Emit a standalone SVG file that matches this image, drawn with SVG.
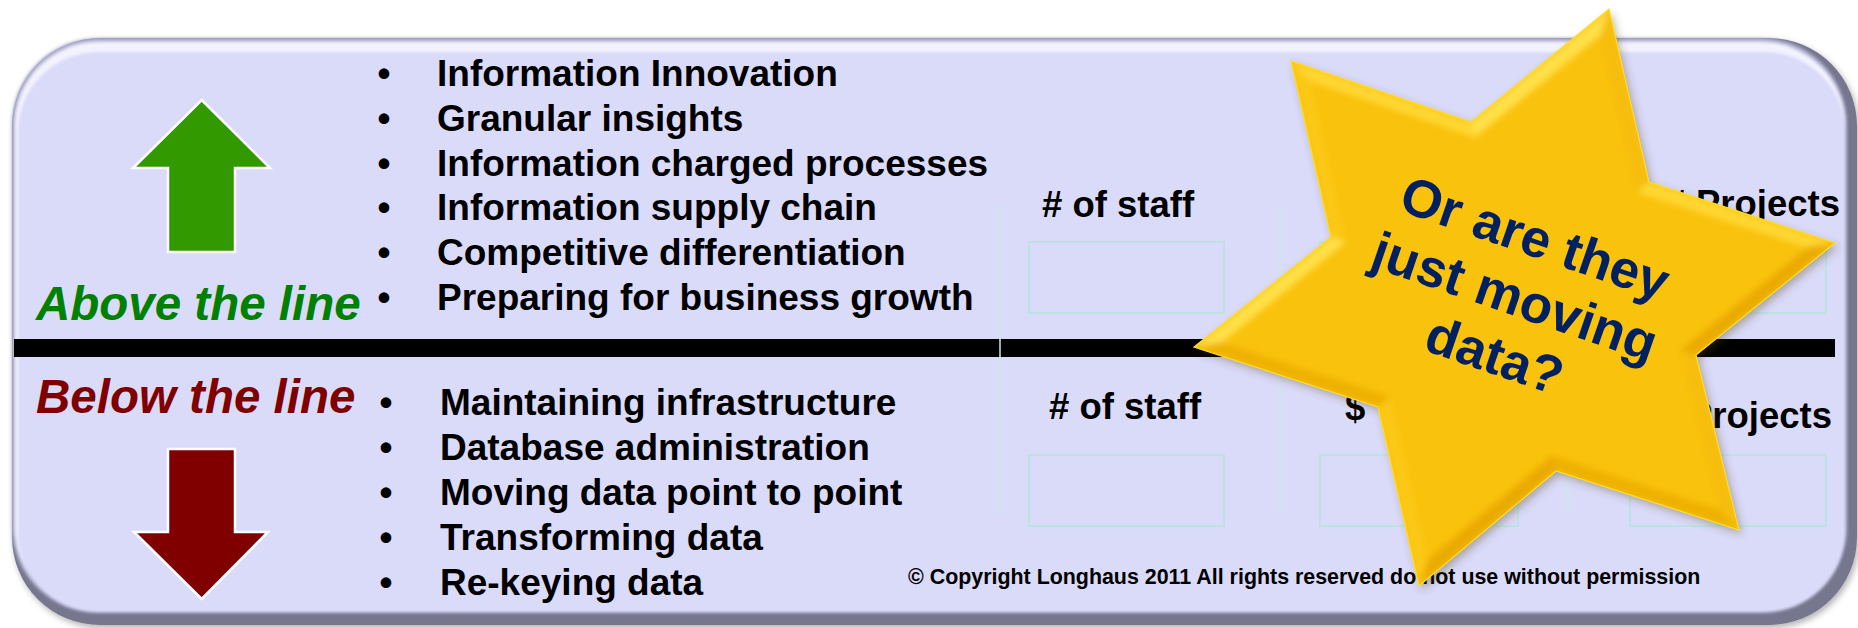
<svg xmlns="http://www.w3.org/2000/svg" width="1858" height="628" viewBox="0 0 1858 628">
<defs>
<style>
.t{font-family:"Liberation Sans",Arial,Helvetica,sans-serif;font-weight:bold}
.item{font-size:37px;fill:#000}
.bul{font-size:37px;fill:#000;text-anchor:middle}
.hdr{font-size:36.5px;fill:#000}
.big{font-size:47.5px;font-style:italic}
.cell{fill:none;stroke:#BCE3E1;stroke-width:2}
.vline{stroke:#C8E9E8;stroke-width:1.5}
.st{font-size:53px;fill:#002060;text-anchor:middle}
.arrow{stroke:#FFFFFF;stroke-width:2.5;stroke-linejoin:miter}
</style>
<filter id="soft" x="-2%" y="-5%" width="104%" height="110%"><feGaussianBlur stdDeviation="1.6"/></filter>
<filter id="pshadow" x="-2%" y="-5%" width="104%" height="112%"><feDropShadow dx="2" dy="3" stdDeviation="3" flood-color="#000" flood-opacity="0.3"/></filter>
<filter id="sshadow" x="-10%" y="-10%" width="125%" height="125%"><feDropShadow dx="3" dy="4" stdDeviation="4" flood-color="#4a3c00" flood-opacity="0.35"/></filter>
<filter id="fblur" x="-5%" y="-5%" width="110%" height="110%"><feGaussianBlur stdDeviation="3"/></filter>
<clipPath id="starclip"><polygon points="1609,9 1649,182 1835,243 1696,355 1739,530 1556,471 1419,586 1378,407 1194,347 1331,237 1291,61 1471,122"/></clipPath>
</defs>

<g id="panel">
<rect x="12" y="38" width="1845" height="587" rx="88" fill="#76768E" filter="url(#pshadow)"/>
<g filter="url(#soft)">
<rect x="12" y="38" width="1835" height="575" rx="86" fill="#B6B6D6"/>
<rect x="15" y="42" width="1830" height="569" rx="84" fill="#F3F3FE"/>
<rect x="18" y="52" width="1827" height="560" rx="80" fill="#DADAF9"/>
</g>
</g>

<g id="divider">
<rect x="14" y="339" width="1821" height="18" fill="#000"/>
</g>

<g id="connectors"></g>

<g id="up-arrow">
<polygon class="arrow" fill="#339900" points="201.7,100 270,168 235,168 235,252 168,252 168,168 133,168"/>
</g>
<g id="down-arrow">
<polygon class="arrow" fill="#800000" points="168,449 235,449 235,532 268,532 201.7,599 134,532 168,532"/>
</g>

<g id="above-label">
<text class="t big" x="36" y="320" fill="#008000">Above the line</text>
</g>
<g id="below-label">
<text class="t big" x="36" y="413" fill="#800000">Below the line</text>
</g>

<g id="above-list">
<text class="t bul" x="384" y="86">•</text><text class="t item" x="437" y="86">Information Innovation</text>
<text class="t bul" x="384" y="130.8">•</text><text class="t item" x="437" y="130.8">Granular insights</text>
<text class="t bul" x="384" y="175.6">•</text><text class="t item" x="437" y="175.6">Information charged processes</text>
<text class="t bul" x="384" y="220.4">•</text><text class="t item" x="437" y="220.4">Information supply chain</text>
<text class="t bul" x="384" y="265.2">•</text><text class="t item" x="437" y="265.2">Competitive differentiation</text>
<text class="t bul" x="384" y="310">•</text><text class="t item" x="437" y="310">Preparing for business growth</text>
</g>

<g id="below-list">
<text class="t bul" x="386" y="415">•</text><text class="t item" x="440" y="415">Maintaining infrastructure</text>
<text class="t bul" x="386" y="460">•</text><text class="t item" x="440" y="460">Database administration</text>
<text class="t bul" x="386" y="505">•</text><text class="t item" x="440" y="505">Moving data point to point</text>
<text class="t bul" x="386" y="550">•</text><text class="t item" x="440" y="550">Transforming data</text>
<text class="t bul" x="386" y="595">•</text><text class="t item" x="440" y="595">Re-keying data</text>
</g>

<g id="table">
<line class="vline" x1="1000" y1="205" x2="1000" y2="515"/>
<line class="vline" x1="1280" y1="205" x2="1280" y2="515"/>
<line class="vline" x1="1568" y1="205" x2="1568" y2="515"/>
<text class="t hdr" x="1042" y="217"># of staff</text>
<text class="t hdr" x="1840" y="216" text-anchor="end"># Projects</text>
<rect class="cell" x="1029" y="242" width="195" height="71"/>
<rect class="cell" x="1320" y="242" width="198" height="71"/>
<rect class="cell" x="1630" y="242" width="196" height="71"/>
<text class="t hdr" x="1049" y="419"># of staff</text>
<text class="t hdr" x="1345" y="420">$</text>
<text class="t hdr" x="1832" y="428" text-anchor="end"># Projects</text>
<rect class="cell" x="1029" y="455" width="195" height="71"/>
<rect class="cell" x="1320" y="455" width="198" height="71"/>
<rect class="cell" x="1630" y="455" width="196" height="71"/>
</g>

<g id="copyright">
<text class="t" x="908" y="584" font-size="21.4" fill="#000">© Copyright Longhaus 2011 All rights reserved do not use without permission</text>
</g>

<g id="star">
<polygon filter="url(#sshadow)" fill="#F9C20A" points="1609,9 1649,182 1835,243 1696,355 1739,530 1556,471 1419,586 1378,407 1194,347 1331,237 1291,61 1471,122"/>
<g clip-path="url(#starclip)">
<g filter="url(#fblur)">
<polygon fill="#F6BD08" points="1609,9 1649,182 1636.8,192.3 1600.2,35.6"/>
<polygon fill="#FFD733" points="1649,182 1835,243 1807.4,247.6 1636.8,192.3"/>
<polygon fill="#EAAA00" points="1835,243 1696,355 1680.8,350.1 1807.4,247.6"/>
<polygon fill="#F6BD08" points="1696,355 1739,530 1719.6,509.8 1680.8,350.1"/>
<polygon fill="#EEB100" points="1739,530 1556,471 1552.3,455.4 1719.6,509.8"/>
<polygon fill="#EAAA00" points="1556,471 1419,586 1427.7,559.4 1552.3,455.4"/>
<polygon fill="#FCC812" points="1419,586 1378,407 1390.4,396.9 1427.7,559.4"/>
<polygon fill="#EEB100" points="1378,407 1194,347 1221.7,342.6 1390.4,396.9"/>
<polygon fill="#FFE04A" points="1194,347 1331,237 1346.2,241.9 1221.7,342.6"/>
<polygon fill="#FCC812" points="1331,237 1291,61 1310.3,81.3 1346.2,241.9"/>
<polygon fill="#FFD733" points="1291,61 1471,122 1474.8,137.5 1310.3,81.3"/>
<polygon fill="#FFE04A" points="1471,122 1609,9 1600.2,35.6 1474.8,137.5"/>
</g>
</g>
<polygon fill="none" stroke="#FFDC2A" stroke-width="1.2" points="1609,9 1649,182 1835,243 1696,355 1739,530 1556,471 1419,586 1378,407 1194,347 1331,237 1291,61 1471,122"/>
<g transform="translate(1509,314) rotate(19)">
<text class="t st" x="0" y="-62">Or are they</text>
<text class="t st" x="0" y="0">just moving</text>
<text class="t st" x="0" y="62">data?</text>
</g>
</g>
</svg>
